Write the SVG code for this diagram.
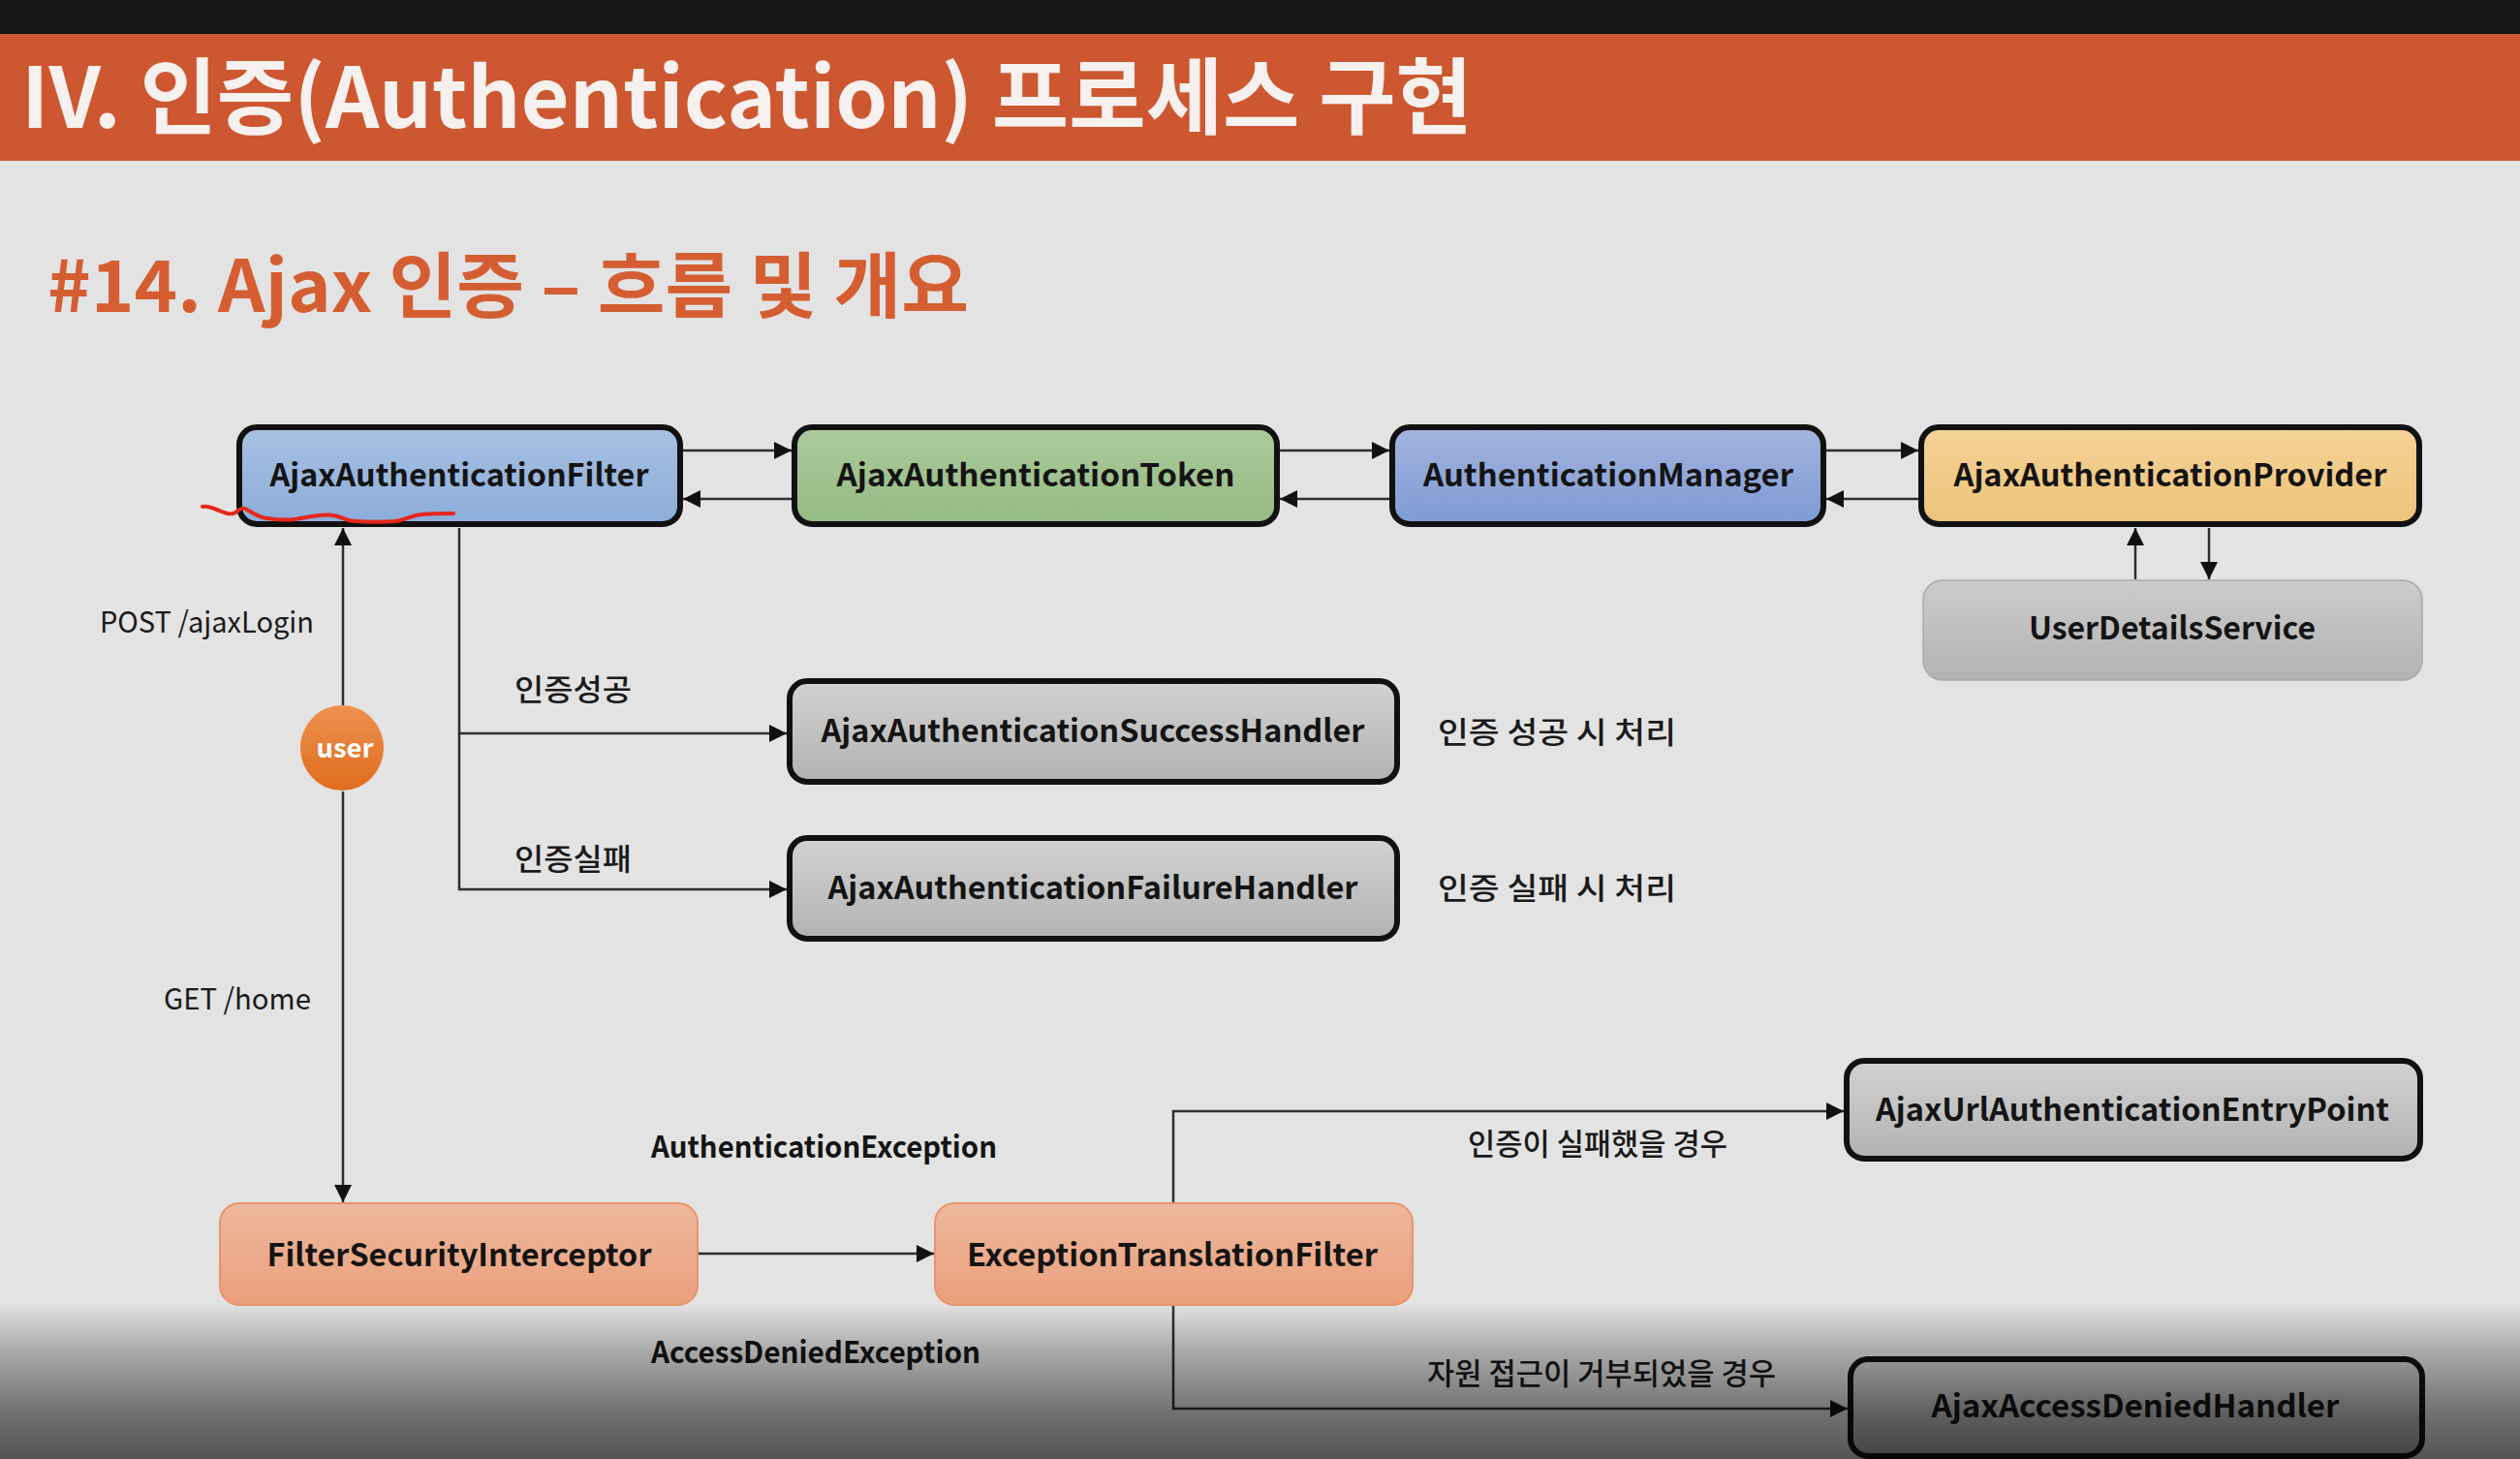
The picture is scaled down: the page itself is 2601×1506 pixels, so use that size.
<svg xmlns="http://www.w3.org/2000/svg" width="2601" height="1506" viewBox="0 0 2601 1506">
  <defs>
    <style>
      .t { font-family: "Noto Sans CJK KR", "Noto Sans", sans-serif; }
      .node-label { font-size: 32px; font-weight: 700; fill: #141414; text-anchor: middle; }
      .lbl { font-size: 30px; font-weight: 400; fill: #1a1a1a; }
      .lbl-kr { font-size: 31px; font-weight: 500; fill: #1a1a1a; }
      .lbl-b { font-size: 31px; font-weight: 700; fill: #141414; }
      .conn { fill: none; stroke: #2e2e2e; stroke-width: 2.5; marker-end: url(#arrow); }
      .box { stroke: #111; stroke-width: 6; }
    </style>
    <marker id="arrow" viewBox="0 0 10 10" refX="10" refY="5" markerUnits="userSpaceOnUse" markerWidth="18" markerHeight="20" orient="auto">
      <path d="M0,0 L10,5 L0,10 z" fill="#111"/>
    </marker>
    <linearGradient id="gBlue" x1="0" y1="0" x2="0" y2="1">
      <stop offset="0" stop-color="#a8c0e2"/>
      <stop offset="1" stop-color="#8badda"/>
    </linearGradient>
    <linearGradient id="gGreen" x1="0" y1="0" x2="0" y2="1">
      <stop offset="0" stop-color="#abca9c"/>
      <stop offset="1" stop-color="#94ba83"/>
    </linearGradient>
    <linearGradient id="gPurple" x1="0" y1="0" x2="0" y2="1">
      <stop offset="0" stop-color="#a3b4de"/>
      <stop offset="1" stop-color="#7e9ad3"/>
    </linearGradient>
    <linearGradient id="gYellow" x1="0" y1="0" x2="0" y2="1">
      <stop offset="0" stop-color="#f4d296"/>
      <stop offset="1" stop-color="#eec37a"/>
    </linearGradient>
    <linearGradient id="gGrey" x1="0" y1="0" x2="0" y2="1">
      <stop offset="0" stop-color="#d2d2d2"/>
      <stop offset="1" stop-color="#b2b2b2"/>
    </linearGradient>
    <linearGradient id="gGreyLight" x1="0" y1="0" x2="0" y2="1">
      <stop offset="0" stop-color="#cbcbcb"/>
      <stop offset="1" stop-color="#b3b3b3"/>
    </linearGradient>
    <linearGradient id="gPeach" x1="0" y1="0" x2="0" y2="1">
      <stop offset="0" stop-color="#edb89e"/>
      <stop offset="1" stop-color="#eb9f7b"/>
    </linearGradient>
    <linearGradient id="gUser" x1="0" y1="0" x2="0" y2="1">
      <stop offset="0" stop-color="#ee9250"/>
      <stop offset="1" stop-color="#e06c1c"/>
    </linearGradient>
    <linearGradient id="gShade" x1="0" y1="1345" x2="0" y2="1506" gradientUnits="userSpaceOnUse">
      <stop offset="0" stop-color="#000" stop-opacity="0"/>
      <stop offset="0.3" stop-color="#000" stop-opacity="0.25"/>
      <stop offset="0.7" stop-color="#000" stop-opacity="0.5"/>
      <stop offset="1" stop-color="#000" stop-opacity="0.63"/>
    </linearGradient>
  </defs>

  <!-- page -->
  <rect x="0" y="0" width="2601" height="1506" fill="#e3e3e3"/>
  <rect x="0" y="0" width="2601" height="35" fill="#161616"/>
  <rect x="0" y="35" width="2601" height="131" fill="#cd5731"/>
  <text class="t" x="22" y="132" font-size="86" font-weight="700" fill="#f6f1ee" textLength="1498" lengthAdjust="spacingAndGlyphs">IV. 인증(Authentication) 프로세스 구현</text>
  <text class="t" x="49" y="322" font-size="74" font-weight="700" fill="#d45e32" textLength="951" lengthAdjust="spacingAndGlyphs">#14. Ajax 인증 – 흐름 및 개요</text>

  <!-- connectors -->
  <g id="connectors">
    <line class="conn" x1="705" y1="465" x2="817" y2="465"/>
    <line class="conn" x1="817" y1="515" x2="705" y2="515"/>
    <line class="conn" x1="1321" y1="465" x2="1434" y2="465"/>
    <line class="conn" x1="1434" y1="515" x2="1321" y2="515"/>
    <line class="conn" x1="1885" y1="465" x2="1980" y2="465"/>
    <line class="conn" x1="1980" y1="515" x2="1885" y2="515"/>
    <line class="conn" x1="2204" y1="598" x2="2204" y2="545"/>
    <line class="conn" x1="2280" y1="545" x2="2280" y2="598"/>
    <line class="conn" x1="354" y1="728" x2="354" y2="545"/>
    <line class="conn" x1="354" y1="817" x2="354" y2="1241"/>
    <path class="conn" d="M474,545 V757 H812"/>
    <path class="conn" d="M474,757 V918 H812"/>
    <line class="conn" x1="721" y1="1294" x2="964" y2="1294"/>
    <path class="conn" d="M1211,1241 V1147 H1903"/>
    <path class="conn" d="M1211,1348 V1454 H1907"/>
  </g>

  <!-- connector labels -->
  <g id="labels" class="t">
    <text class="lbl" x="103" y="653" textLength="221" lengthAdjust="spacingAndGlyphs">POST /ajaxLogin</text>
    <text class="lbl" x="169" y="1042" textLength="152" lengthAdjust="spacingAndGlyphs">GET /home</text>
    <text class="lbl-kr" x="531" y="723" textLength="121" lengthAdjust="spacingAndGlyphs">인증성공</text>
    <text class="lbl-kr" x="531" y="898" textLength="121" lengthAdjust="spacingAndGlyphs">인증실패</text>
    <text class="lbl-kr" x="1484" y="767" textLength="246" lengthAdjust="spacingAndGlyphs">인증 성공 시 처리</text>
    <text class="lbl-kr" x="1484" y="928" textLength="246" lengthAdjust="spacingAndGlyphs">인증 실패 시 처리</text>
    <text class="lbl-b" x="672" y="1195" textLength="357" lengthAdjust="spacingAndGlyphs">AuthenticationException</text>
    <text class="lbl-b" x="672" y="1407" textLength="340" lengthAdjust="spacingAndGlyphs">AccessDeniedException</text>
    <text class="lbl-kr" x="1515" y="1192" textLength="268" lengthAdjust="spacingAndGlyphs">인증이 실패했을 경우</text>
    <text class="lbl-kr" x="1473" y="1429" textLength="360" lengthAdjust="spacingAndGlyphs">자원 접근이 거부되었을 경우</text>
  </g>

  <!-- nodes -->
  <g id="ajax-authentication-filter">
    <rect class="box" x="247" y="441" width="455" height="100" rx="18" fill="url(#gBlue)"/>
    <text class="t node-label" x="474" y="502" textLength="391" lengthAdjust="spacingAndGlyphs">AjaxAuthenticationFilter</text>
  </g>
  <g id="ajax-authentication-token">
    <rect class="box" x="820" y="441" width="498" height="100" rx="18" fill="url(#gGreen)"/>
    <text class="t node-label" x="1069" y="502" textLength="411" lengthAdjust="spacingAndGlyphs">AjaxAuthenticationToken</text>
  </g>
  <g id="authentication-manager">
    <rect class="box" x="1437" y="441" width="445" height="100" rx="18" fill="url(#gPurple)"/>
    <text class="t node-label" x="1660" y="502" textLength="382" lengthAdjust="spacingAndGlyphs">AuthenticationManager</text>
  </g>
  <g id="ajax-authentication-provider">
    <rect class="box" x="1983" y="441" width="514" height="100" rx="18" fill="url(#gYellow)"/>
    <text class="t node-label" x="2240" y="502" textLength="447" lengthAdjust="spacingAndGlyphs">AjaxAuthenticationProvider</text>
  </g>
  <g id="user-details-service">
    <rect x="1985" y="599" width="515" height="103" rx="20" fill="url(#gGreyLight)" stroke="#a9a9a9" stroke-width="1.5"/>
    <text class="t node-label" x="2242" y="660" textLength="296" lengthAdjust="spacingAndGlyphs">UserDetailsService</text>
  </g>
  <g id="user">
    <ellipse cx="353" cy="772" rx="43" ry="44" fill="url(#gUser)"/>
    <text class="t" x="356" y="782" font-size="27" font-weight="700" fill="#fff" text-anchor="middle" textLength="59" lengthAdjust="spacingAndGlyphs">user</text>
  </g>
  <g id="ajax-authentication-success-handler">
    <rect class="box" x="815" y="703" width="627" height="104" rx="18" fill="url(#gGrey)"/>
    <text class="t node-label" x="1128" y="766" textLength="561" lengthAdjust="spacingAndGlyphs">AjaxAuthenticationSuccessHandler</text>
  </g>
  <g id="ajax-authentication-failure-handler">
    <rect class="box" x="815" y="865" width="627" height="104" rx="18" fill="url(#gGrey)"/>
    <text class="t node-label" x="1128" y="928" textLength="547" lengthAdjust="spacingAndGlyphs">AjaxAuthenticationFailureHandler</text>
  </g>
  <g id="filter-security-interceptor">
    <rect x="227" y="1242" width="493" height="105" rx="20" fill="url(#gPeach)" stroke="#e6946c" stroke-width="2"/>
    <text class="t node-label" x="474" y="1307" textLength="397" lengthAdjust="spacingAndGlyphs">FilterSecurityInterceptor</text>
  </g>
  <g id="exception-translation-filter">
    <rect x="965" y="1242" width="493" height="105" rx="20" fill="url(#gPeach)" stroke="#e6946c" stroke-width="2"/>
    <text class="t node-label" x="1210" y="1307" textLength="424" lengthAdjust="spacingAndGlyphs">ExceptionTranslationFilter</text>
  </g>
  <g id="ajax-url-authentication-entry-point">
    <rect class="box" x="1906" y="1095" width="592" height="101" rx="18" fill="url(#gGrey)"/>
    <text class="t node-label" x="2201" y="1157" textLength="530" lengthAdjust="spacingAndGlyphs">AjaxUrlAuthenticationEntryPoint</text>
  </g>
  <g id="ajax-access-denied-handler">
    <rect class="box" x="1910" y="1403" width="590" height="100" rx="18" fill="url(#gGrey)"/>
    <text class="t node-label" x="2204" y="1463" textLength="421" lengthAdjust="spacingAndGlyphs">AjaxAccessDeniedHandler</text>
  </g>

  <!-- red pen underline -->
  <path d="M209,523 C220,521 232,533 241,530 C246,528 248,523 253,525 C262,530 268,535 276,535 C288,537 296,537 304,536 C318,534 332,530 344,532 C352,533 358,538 367,538 C380,539 396,539 408,538 C420,536 428,531 436,531 C448,530 458,530 468,530" fill="none" stroke="#e8261b" stroke-width="4" stroke-linecap="round"/>

  <!-- player shade along the bottom edge -->
  <rect x="0" y="1345" width="2601" height="161" fill="url(#gShade)"/>
</svg>
